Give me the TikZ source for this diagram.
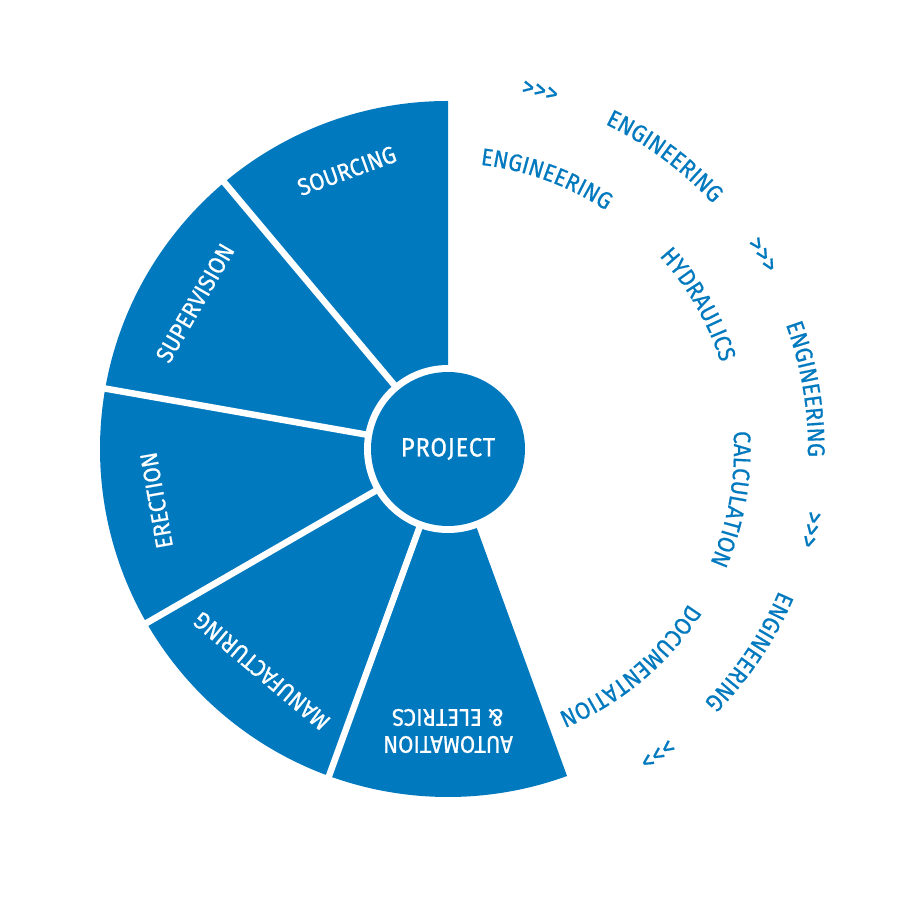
\documentclass[tikz,border=0pt]{standalone}
\usepackage{fontspec}
\usetikzlibrary{decorations.text}
\newfontfamily\labfont[FakeStretch=0.92,FakeBold=0.6]{Fira Sans}
\newfontfamily\projfont[FakeStretch=0.9,FakeBold=0.6,LetterSpace=3]{Fira Sans}
\definecolor{cblue}{RGB}{0,121,191}
\newcommand\ringtext[4]{%
  \path[decorate,decoration={text along path,text align=center,
    text={|\labfont\fontsize{#4}{#4}\selectfont\color{cblue}|#3}}]
    ([shift={(#1+40:#2)}]C) arc[start angle=#1+40,end angle=#1-40,radius=#2];}
\begin{document}
\begin{tikzpicture}[x=1pt,y=1pt,
  seclabel/.style={text=white,font=\labfont\fontsize{24}{27}\selectfont,inner sep=0pt,align=center},
  sepline/.style={draw=white,line width=6.5pt},
]
\useasboundingbox (0,0) rectangle (900,900);
\fill[white] (0,0) rectangle (900,900);
\coordinate (C) at (448,451);
% blue fan
\fill[cblue] (C) -- ++(90:348) arc[start angle=90,end angle=290,radius=348] -- cycle;
\foreach \a in {130,170,210,250} \draw[sepline] (C) -- ++(\a:352);
\fill[white] (C) circle[radius=84];
\node[circle,fill=cblue,minimum size=154pt,inner sep=0pt,text=white,
  font=\projfont\fontsize{26.5}{30}\selectfont] (project) at (C) {PROJECT};
% sector labels
\node[seclabel,rotate=20]  (sourcing) at ([shift={(110:296)}]C) {SOURCING};
\node[seclabel,rotate=60]  (supervision) at ([shift={(150:292)}]C) {SUPERVISION};
\node[seclabel,rotate=100] (erection) at ([shift={(190:296)}]C) {ERECTION};
\node[seclabel,rotate=140] (manufacturing) at ([shift={(230:290)}]C) {MANUFACTURING};
\node[seclabel,rotate=180] (automation) at ([shift={(270:282)}]C) {AUTOMATION\\\& ELETRICS};
% inner ring
\ringtext{70}{286}{ENGINEERING}{24}
\ringtext{30}{286}{HYDRAULICS}{24}
\ringtext{-10}{286}{CALCULATION}{24}
\ringtext{-50}{286}{DOCUMENTATION}{24}
% outer ring
\ringtext{75.6}{362}{>>>}{26}
\ringtext{53.5}{361}{ENGINEERING}{24}
\ringtext{31.7}{362}{>>>}{26}
\ringtext{9.5}{360}{ENGINEERING}{24}
\ringtext{-12.5}{364}{>>>}{26}
\ringtext{-33.9}{360}{ENGINEERING}{24}
\ringtext{-55.5}{362}{>>>}{26}
\end{tikzpicture}
\end{document}
